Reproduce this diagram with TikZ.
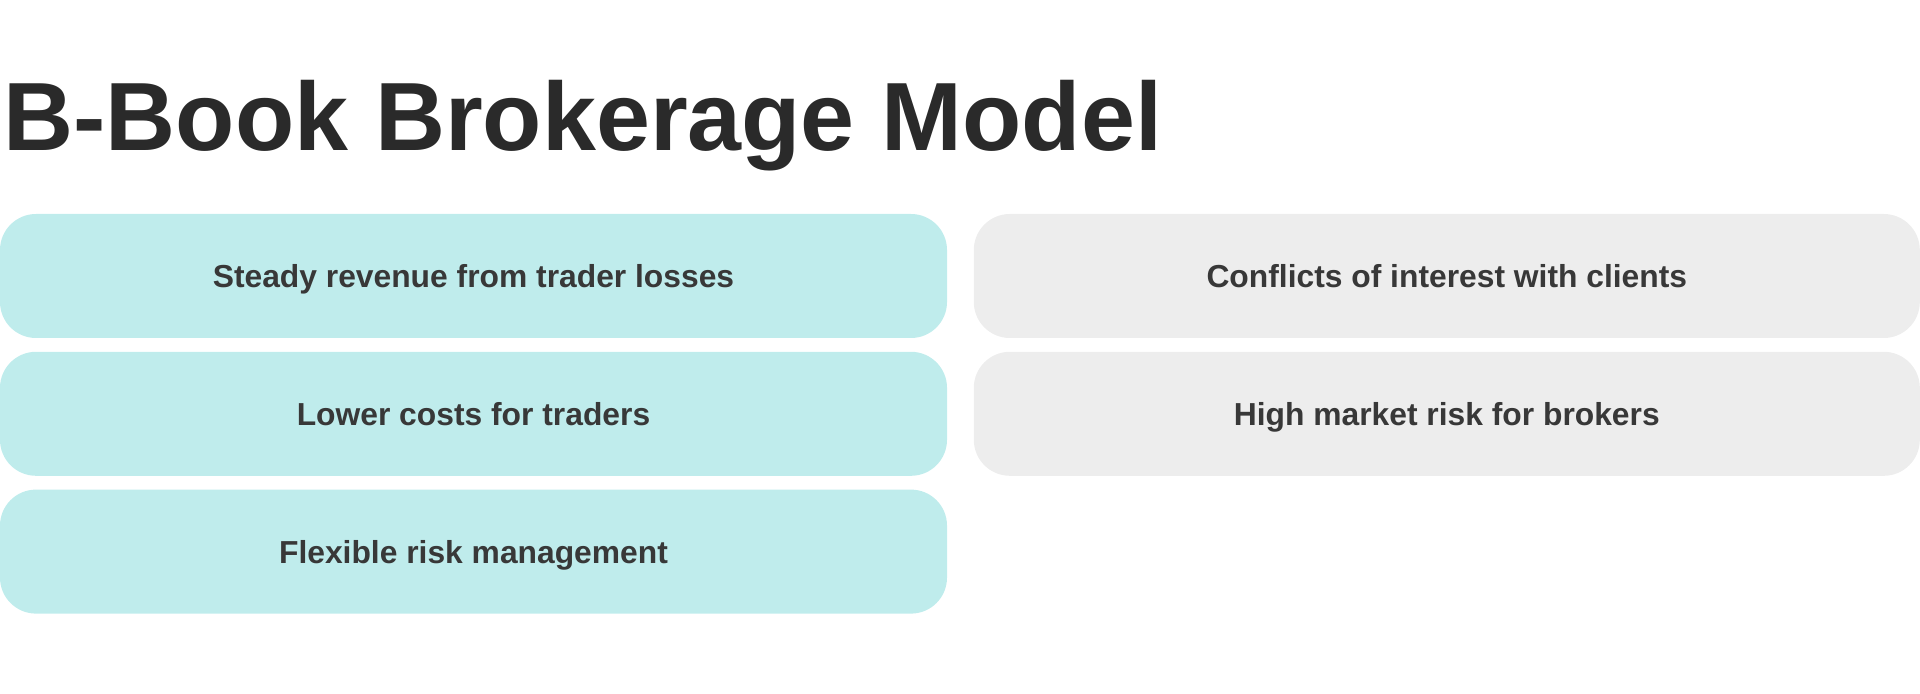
\documentclass[tikz,border=0pt]{standalone}
\usepackage{fontspec}
\setmainfont{Liberation Sans}
\usetikzlibrary{positioning}
\definecolor{protint}{HTML}{BFECEC}
\definecolor{contint}{HTML}{EDEDED}
\definecolor{titleink}{HTML}{2A2A2A}
\definecolor{labelink}{HTML}{383838}
\tikzset{
  item/.style={rounded corners=18pt, minimum width=473.5pt, minimum height=62pt,
    inner sep=0pt, text height=11.5pt, text depth=0pt, text=labelink,
    font=\fontsize{15.9}{19}\selectfont\bfseries},
  probox/.style={item, fill=protint},
  conbox/.style={item, fill=contint, minimum width=473pt},
}
\begin{document}
\begin{tikzpicture}
\useasboundingbox (0,0) rectangle (960pt,-347pt);
\node [anchor=base west, inner sep=0pt, text=titleink,
  font=\fontsize{48.5}{56}\selectfont\bfseries] (title) at (1.5pt,-75.5pt) {B-Book Brokerage Model};

\node [probox] (pro1) at (236.75pt,-138pt) {Steady revenue from trader losses};
\node [probox, below=6.5pt of pro1] (pro2) {Lower costs for traders};
\node [probox, below=6.5pt of pro2] (pro3) {Flexible risk management};

\node [conbox, right=13pt of pro1] (con1) {Conflicts of interest with clients};
\node [conbox, below=6.5pt of con1] (con2) {High market risk for brokers};
\end{tikzpicture}
\end{document}
